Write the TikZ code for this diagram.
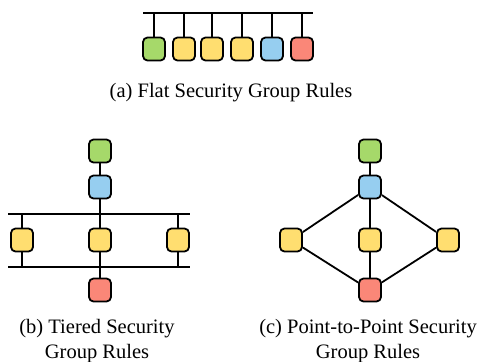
\documentclass[tikz,border=0pt]{standalone}
\usepackage{fontspec}
\setmainfont{Liberation Serif}
\definecolor{cgreen}{RGB}{166,217,106}
\definecolor{cyellow}{RGB}{255,222,112}
\definecolor{cblue}{RGB}{150,206,240}
\definecolor{cred}{RGB}{250,135,120}
\begin{document}
\begin{tikzpicture}[x=1pt,y=-1pt,
  box/.style={draw=black,line width=1.8pt,rounded corners=4.5pt,minimum width=22pt,minimum height=23pt,inner sep=0pt},
  wire/.style={line width=1.8pt,black},
  captext/.style={font=\fontsize{20.5}{24.5}\selectfont,align=center,inner sep=0pt}]
\useasboundingbox (0,0) rectangle (480,362);
% (a)
\coordinate (abarL) at (143,13);
\coordinate (abarR) at (313,13);
\draw[wire] (abarL) -- (abarR);
\foreach \i/\x/\c in {1/154/cgreen,2/184/cyellow,3/212/cyellow,4/242/cyellow,5/272/cblue,6/302/cred}{
  \node[box,fill=\c] (a\i) at (\x,49) {};
  \coordinate (at\i) at (\x,13);
  \draw[wire] (at\i) -- (a\i.north);
}
\node[captext,anchor=base] (acap) at (231,97) {(a) Flat Security Group Rules};
% (b)
\node[box,fill=cgreen] (bg) at (100,151) {};
\node[box,fill=cblue] (bb) at (100,187) {};
\node[box,fill=cyellow] (byl) at (22,240) {};
\node[box,fill=cyellow] (bym) at (100,240) {};
\node[box,fill=cyellow] (byr) at (178,240) {};
\node[box,fill=cred] (br) at (100,290) {};
\coordinate (b1L) at (8,214); \coordinate (b1R) at (190,214);
\coordinate (b2L) at (8,267); \coordinate (b2R) at (190,267);
\draw[wire] (b1L) -- (b1R);
\draw[wire] (b2L) -- (b2R);
\draw[wire] (bg) -- (bb);
\draw[wire] (bb) -- (bym);
\draw[wire] (bym) -- (br);
\coordinate (b1l) at (22,214); \coordinate (b2l) at (22,267);
\coordinate (b1r) at (178,214); \coordinate (b2r) at (178,267);
\draw[wire] (b1l) -- (byl); \draw[wire] (byl) -- (b2l);
\draw[wire] (b1r) -- (byr); \draw[wire] (byr) -- (b2r);
\node[captext] (bcap) at (97,341) {(b) Tiered Security\\Group Rules};
% (c)
\node[box,fill=cgreen] (cg) at (370,151) {};
\node[box,fill=cblue] (cb) at (370,187) {};
\node[box,fill=cyellow] (cyl) at (291,240) {};
\node[box,fill=cyellow] (cym) at (370,240) {};
\node[box,fill=cyellow] (cyr) at (448,240) {};
\node[box,fill=cred] (cr) at (370,290) {};
\draw[wire] (cg) -- (cb);
\draw[wire] (cb) -- (cyl);
\draw[wire] (cb) -- (cym);
\draw[wire] (cb) -- (cyr);
\draw[wire] (cyl) -- (cr);
\draw[wire] (cym) -- (cr);
\draw[wire] (cyr) -- (cr);
\node[captext] (ccap) at (368,341) {(c) Point-to-Point Security\\Group Rules};
\end{tikzpicture}
\end{document}
